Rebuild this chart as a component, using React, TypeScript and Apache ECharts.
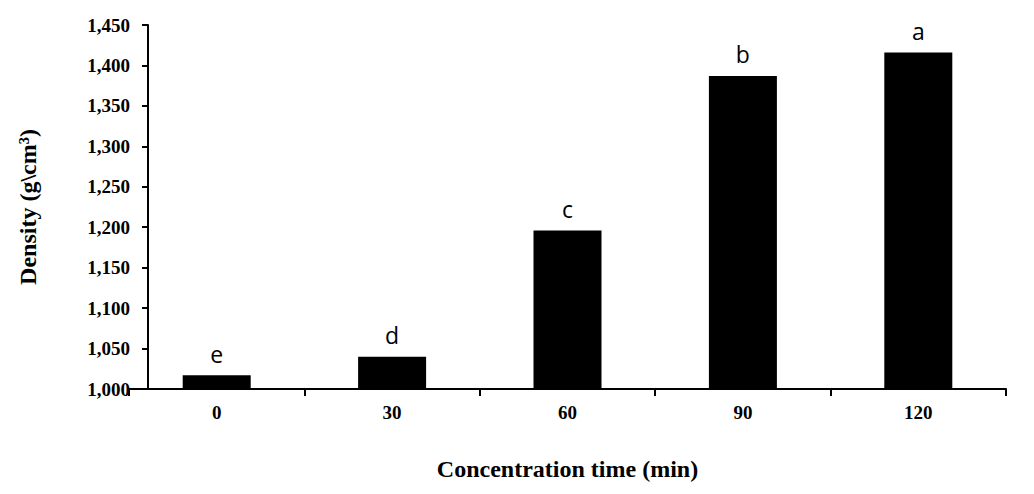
import React, { useEffect, useRef } from "react";
import * as echarts from "echarts";

const categories = ["0", "30", "60", "90", "120"];
const density = [1017, 1040, 1196, 1387, 1416];
const letters = ["e", "d", "c", "b", "a"];

const App = () => {
  const ref = useRef<HTMLDivElement>(null);
  useEffect(() => {
    const chart = echarts.init(ref.current, null, { renderer: "svg" });
    const serif = "'Liberation Serif', 'Times New Roman', serif";
    chart.setOption({
      animation: false,
      grid: { left: 118, top: 17, width: 880, height: 373 },
      xAxis: {
        type: "category",
        data: categories,
        axisLine: { lineStyle: { color: "#000", width: 2 } },
        axisTick: { show: true, interval: 0, lineStyle: { color: "#000", width: 2 }, length: 7 },
        axisLabel: { color: "#000", fontFamily: serif, fontWeight: "bold", fontSize: 19, margin: 14 },
        name: "Concentration time (min)",
        nameLocation: "middle",
        nameGap: 68,
        nameTextStyle: { color: "#000", fontFamily: serif, fontWeight: "bold", fontSize: 24 },
      },
      yAxis: {
        type: "value",
        min: 1000,
        max: 1450,
        interval: 50,
        offset: -19,
        splitLine: { show: false },
        axisLine: { show: true, lineStyle: { color: "#000", width: 2 } },
        axisTick: { show: true, lineStyle: { color: "#000", width: 2 }, length: 6 },
        axisLabel: {
          color: "#000",
          fontFamily: serif,
          fontWeight: "bold",
          fontSize: 19,
          margin: 18,
          formatter: (v: number) => v.toLocaleString("en-US"),
        },
        name: "Density (g\\cm³)",
        nameLocation: "middle",
        nameGap: 108,
        nameTextStyle: { color: "#000", fontFamily: serif, fontWeight: "bold", fontSize: 24 },
      },
      series: [
        {
          type: "bar",
          data: density,
          barWidth: 68,
          itemStyle: { color: "#000" },
          label: {
            show: true,
            position: "top",
            distance: 10,
            color: "#000",
            fontSize: 23,
            fontFamily: "'Open Sans', 'DejaVu Sans', sans-serif",
            formatter: (p: any) => letters[p.dataIndex],
          },
        },
      ],
    });
    return () => chart.dispose();
  }, []);
  return <div ref={ref} style={{ width: "1018px", height: "478px" }} />;
};

export default App;
